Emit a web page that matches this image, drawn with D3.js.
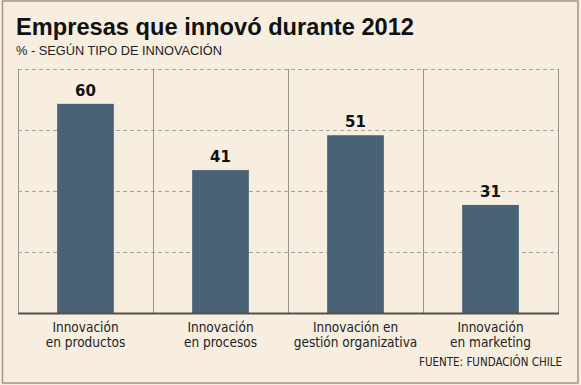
<!DOCTYPE html>
<html><head><meta charset="utf-8">
<script src="https://cdn.jsdelivr.net/npm/d3@7"></script>
<style>body{margin:0;background:#f7eee0}svg{display:block}</style>
</head><body>
<script>
const categories = [["Innovación","en productos"],["Innovación","en procesos"],["Innovación en","gestión organizativa"],["Innovación","en marketing"]];
const values = [60, 41, 51, 31];
const yTicks = [0, 17.5, 35, 52.5, 70];
const title = "Empresas que innovó durante 2012";
const subtitle = "% - SEGÚN TIPO DE INNOVACIÓN";
const source = "FUENTE: FUNDACIÓN CHILE";

const W = 581, H = 385;
const svg = d3.select("body").append("svg").attr("width", W).attr("height", H);
svg.append("rect").attr("x",0).attr("y",0).attr("width",W).attr("height",H).attr("fill","#f7eee0");
svg.append("rect").attr("x",2.5).attr("y",1).attr("width",575.5).attr("height",382).attr("fill","none").attr("stroke","#a3958a").attr("stroke-width",1.5);

svg.append("text").attr("x",16).attr("y",35).text(title)
  .attr("font-family","'Liberation Sans', Arial, sans-serif").attr("font-weight","bold").attr("font-size",23)
  .attr("textLength",398).attr("lengthAdjust","spacingAndGlyphs").attr("fill","#111");
svg.append("text").attr("x",16).attr("y",55).text(subtitle)
  .attr("font-family","'Liberation Sans', Arial, sans-serif").attr("font-size",12.5)
  .attr("textLength",206).attr("lengthAdjust","spacingAndGlyphs").attr("fill","#222");

const pLeft = 18, pRight = 558, pTop = 69, pBottom = 313;
const x = d3.scaleBand().domain(d3.range(categories.length)).range([pLeft, pRight]).paddingInner(0).paddingOuter(0);
const y = d3.scaleLinear().domain([0, 70]).range([pBottom, pTop]);

// gridlines
svg.append("g").selectAll("line").data(yTicks.filter(t => t > 0)).join("line")
  .attr("x1", pLeft).attr("x2", pRight).attr("y1", d => Math.round(y(d)) + 0.5).attr("y2", d => Math.round(y(d)) + 0.5)
  .attr("stroke","#a8a39c").attr("stroke-width",1).attr("stroke-dasharray","4,3");

// vertical separators
const seps = d3.range(categories.length + 1).map(i => i < categories.length ? x(i) : pRight);
svg.append("g").selectAll("line").data(seps).join("line")
  .attr("x1", d => Math.round(d) + 0.5).attr("x2", d => Math.round(d) + 0.5)
  .attr("y1", pTop).attr("y2", pBottom)
  .attr("stroke","#9a958f").attr("stroke-width",1);

// bars
const bw = x.bandwidth() * 0.42;
svg.append("g").selectAll("rect").data(values).join("rect")
  .attr("x", (d,i) => x(i) + x.bandwidth()/2 - bw/2)
  .attr("y", d => y(d)).attr("width", bw).attr("height", d => pBottom - y(d))
  .attr("fill","#496277");

// axis line
svg.append("line").attr("x1", pLeft).attr("x2", pRight + 1).attr("y1", pBottom + 0.5).attr("y2", pBottom + 0.5)
  .attr("stroke","#555049").attr("stroke-width",2);

// value labels
svg.append("g").selectAll("text").data(values).join("text")
  .attr("x", (d,i) => x(i) + x.bandwidth()/2).attr("y", d => y(d) - 8)
  .attr("text-anchor","middle").attr("font-family","'DejaVu Sans', Verdana, sans-serif").attr("font-weight","bold")
  .attr("font-size",15).attr("fill","#111").text(d => d);

// category labels
const cl = svg.append("g").selectAll("text").data(categories).join("text")
  .attr("text-anchor","middle").attr("font-family","'DejaVu Sans Condensed', 'DejaVu Sans', sans-serif")
  .attr("font-size",13.5).attr("fill","#222");
cl.selectAll("tspan").data((d,i) => d.map(s => ({s, i}))).join("tspan")
  .attr("x", d => x(d.i) + x.bandwidth()/2).attr("y", (d,j) => 332 + j*15).text(d => d.s);

svg.append("text").attr("x",562).attr("y",366).attr("text-anchor","end").text(source)
  .attr("font-family","'DejaVu Sans Condensed', 'DejaVu Sans', sans-serif").attr("font-size",12)
  .attr("textLength",143).attr("lengthAdjust","spacingAndGlyphs").attr("fill","#222");
</script>
</body></html>
